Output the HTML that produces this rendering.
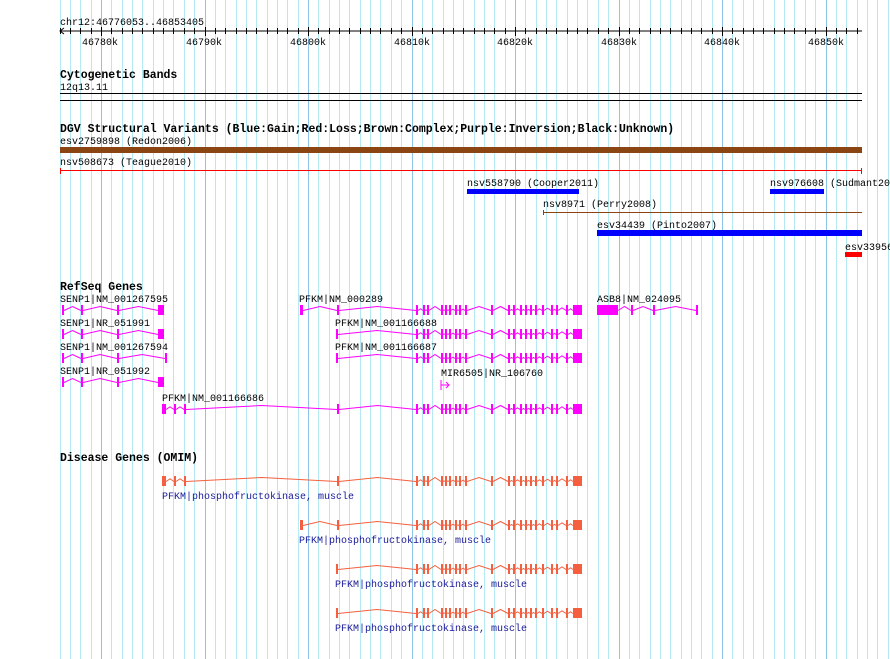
<!DOCTYPE html>
<html><head><meta charset="utf-8"><style>
body{margin:0;background:#fff;}
svg{display:block;}
text{font-family:"Liberation Mono",monospace;font-size:10px;fill:#000;}
.b{font-weight:bold;font-size:11.5px;}
.o{fill:#1a1a9a;}
</style></head><body>
<svg id="s" width="890" height="659" xmlns="http://www.w3.org/2000/svg">
<g id="grid"></g>
<text x="60" y="25">chr12:46776053..46853405</text>
<line x1="60" y1="31" x2="862" y2="31" stroke="#000"/>
<polyline points="64,28 60,31 64,34" fill="none" stroke="#000"/>
<g id="ticks"></g>
<text x="82" y="45">46780k</text><text x="186" y="45">46790k</text><text x="290" y="45">46800k</text><text x="394" y="45">46810k</text><text x="497" y="45">46820k</text><text x="601" y="45">46830k</text><text x="704" y="45">46840k</text><text x="808" y="45">46850k</text>
<text class="b" x="60" y="78">Cytogenetic Bands</text>
<text x="60" y="90">12q13.11</text>
<rect x="60" y="93" width="802" height="1" fill="#000"/>
<rect x="60" y="100" width="802" height="1" fill="#000"/>
<text class="b" x="60" y="132">DGV Structural Variants (Blue:Gain;Red:Loss;Brown:Complex;Purple:Inversion;Black:Unknown)</text>
<text x="60" y="144">esv2759898 (Redon2006)</text>
<rect x="60" y="147" width="802" height="6" fill="#8b4513"/>
<text x="60" y="165">nsv508673 (Teague2010)</text>
<rect x="60" y="170" width="802" height="1" fill="#f00"/>
<rect x="60" y="168" width="1" height="6" fill="#f00"/><rect x="861" y="168" width="1" height="6" fill="#f00"/>
<text x="467" y="186">nsv558790 (Cooper2011)</text>
<rect x="467" y="189" width="112" height="5" fill="#00f"/>
<text x="770" y="186">nsv976608 (Sudmant2013)</text>
<rect x="770" y="189" width="54" height="5" fill="#00f"/>
<text x="543" y="207">nsv8971 (Perry2008)</text>
<rect x="543" y="212" width="319" height="1" fill="#8b4513"/>
<rect x="543" y="210" width="1" height="5" fill="#8b4513"/>
<text x="597" y="228">esv34439 (Pinto2007)</text>
<rect x="597" y="230" width="265" height="6" fill="#00f"/>
<text x="845" y="250">esv33956</text>
<rect x="845" y="252" width="17" height="5" fill="#f00"/>
<text class="b" x="60" y="290">RefSeq Genes</text>
<text x="60" y="302">SENP1|NM_001267595</text>
<text x="60" y="326">SENP1|NR_051991</text>
<text x="60" y="350">SENP1|NM_001267594</text>
<text x="60" y="374">SENP1|NR_051992</text>
<text x="299" y="302">PFKM|NM_000289</text>
<text x="335" y="326">PFKM|NM_001166688</text>
<text x="335" y="350">PFKM|NM_001166687</text>
<text x="441" y="376">MIR6505|NR_106760</text>
<text x="162" y="401">PFKM|NM_001166686</text>
<text x="597" y="302">ASB8|NM_024095</text>
<path d="M441,380V390M441,385H449M446,382L449,385L446,388" fill="none" stroke="#f0f"/>
<text class="b" x="60" y="461">Disease Genes (OMIM)</text>
<text class="o" x="162" y="499">PFKM|phosphofructokinase, muscle</text>
<text class="o" x="299" y="543">PFKM|phosphofructokinase, muscle</text>
<text class="o" x="335" y="587">PFKM|phosphofructokinase, muscle</text>
<text class="o" x="335" y="631">PFKM|phosphofructokinase, muscle</text>
<g id="genes"></g>
</svg>
<script>
var NS="http://www.w3.org/2000/svg";
function el(p,t,a){var e=document.createElementNS(NS,t);for(var k in a)e.setAttribute(k,a[k]);p.appendChild(e);return e;}
var g=document.getElementById('grid'),tk=document.getElementById('ticks');
for(var i=-6;i<80;i++){var x=Math.round(101+i*10.35)+0.5;if(x<59||x>890)continue;
 var maj=(i%10==0);el(g,'line',{x1:x,y1:0,x2:x,y2:659,stroke:maj?'#8cc4e8':'#b4eaf2','stroke-width':1});
 if(x>60&&x<862)el(tk,'line',{x1:x,y1:maj?27:28,x2:x,y2:maj?36:34,stroke:'#000'});}
var G=document.getElementById('genes');
function gene(y,ex,c){
 for(var i=0;i<ex.length;i++){var e=ex[i];el(G,'rect',{x:e[0],y:y-5,width:Math.max(2,e[1]-e[0]),height:10,fill:c});
  if(i<ex.length-1){var a=e[1],b=ex[i+1][0],m=(a+b)/2,h=Math.min(4,(b-a)/3);
   el(G,'polyline',{points:a+','+(y+0.5)+' '+m+','+(y-h+0.5)+' '+b+','+(y+0.5),fill:'none',stroke:c,'stroke-width':1});}}}
var C=[[416,418],[423,425],[427,429],[441,443],[445,447],[449,451],[455,457],[459,461],[465,467],[491,493],[508,510],[513,515],[520,522],[525,527],[530,532],[535,537],[542,544],[551,553],[556,558],[566,568],[573,582]];
var A=[[300,303],[337,339]].concat(C),B=[[336,338]].concat(C),D=[[162,166],[174,176],[184,186],[337,339]].concat(C);
var S=[[62,64],[81,83],[117,119],[158,164]];
gene(310,S,'#f0f');gene(334,S,'#f0f');gene(358,[[62,64],[81,83],[117,119],[165,167]],'#f0f');gene(382,S,'#f0f');
gene(310,A,'#f0f');gene(334,B,'#f0f');gene(358,B,'#f0f');gene(409,D,'#f0f');
gene(310,[[597,618],[631,633],[653,655],[696,698]],'#f0f');
var O='#f4603f';gene(481,D,O);gene(525,A,O);gene(569,B,O);gene(613,B,O);
</script>
</body></html>
